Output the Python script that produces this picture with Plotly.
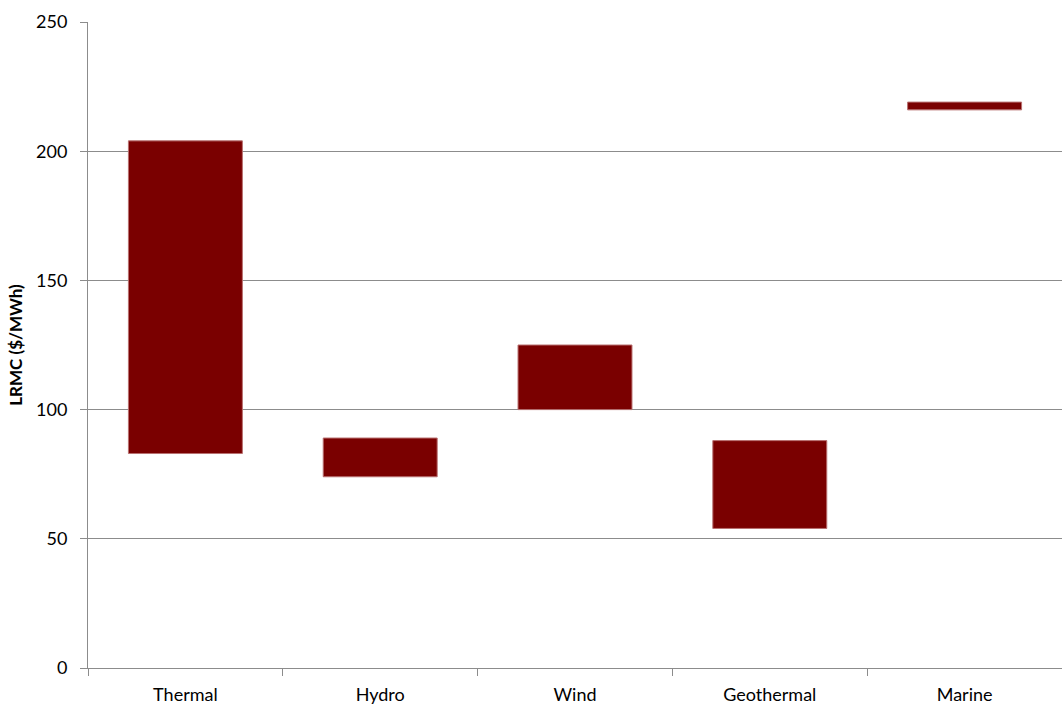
import plotly.graph_objects as go

categories = ["Thermal", "Hydro", "Wind", "Geothermal", "Marine"]
low_values = [83, 74, 100, 54, 216]
high_values = [204, 89, 125, 88, 219]
y_ticks = [0, 50, 100, 150, 200, 250]

spans = [h - l for h, l in zip(high_values, low_values)]

fig = go.Figure(go.Bar(
    x=categories, y=spans, base=low_values,
    marker=dict(color="#7A0000", line=dict(color="#B87070", width=1)),
    width=0.585, hoverinfo="skip",
))

axis_color = "#8C8C8C"
fig.update_layout(
    width=1062, height=707,
    margin=dict(l=88, r=0, t=22, b=39),
    paper_bgcolor="white", plot_bgcolor="white",
    font=dict(family="Lato, Open Sans, sans-serif", size=18, color="#000000"),
    showlegend=False,
    xaxis=dict(
        showline=True, linecolor=axis_color, linewidth=1,
        ticks="outside", tickson="boundaries", ticklen=7, tickcolor=axis_color,
        showgrid=False, tickfont=dict(size=18), ticklabelstandoff=10,
    ),
    yaxis=dict(
        range=[0, 250], tickvals=y_ticks,
        showline=True, linecolor=axis_color, linewidth=1,
        ticks="outside", ticklen=7, tickcolor=axis_color,
        showgrid=True, gridcolor=axis_color, gridwidth=1,
        zeroline=False, tickfont=dict(size=18), ticklabelstandoff=9,
        title=dict(text="<b>LRMC ($/MWh)</b>", font=dict(size=17), standoff=9),
    ),
)

fig.write_html("out.html")
